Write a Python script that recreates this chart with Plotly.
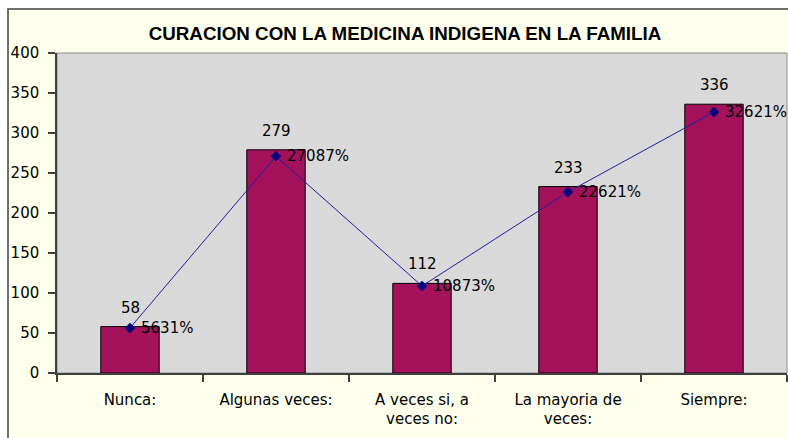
import plotly.graph_objects as go

# Datos
categorias = ["Nunca:", "Algunas veces:", "A veces si, a<br>veces no:", "La mayoria de<br>veces:", "Siempre:"]
frecuencias = [58, 279, 112, 233, 336]
porcentaje_linea = [56.31, 270.87, 108.73, 226.21, 326.21]
porcentaje_texto = ["5631%", "27087%", "10873%", "22621%", "32621%"]
ticks_y = [0, 50, 100, 150, 200, 250, 300, 350, 400]

W, H = 788, 438
ML, MR, MT, MB = 57, 1, 53, 65
pw = W - ML - MR
ph = H - MT - MB


def px_x(p):
    return (p - ML) / pw


def px_y(p):
    return (H - MB - p) / ph


fig = go.Figure()

fig.add_trace(go.Bar(
    x=categorias, y=frecuencias, width=0.4,
    marker=dict(color="#A3125A", line=dict(color="#000000", width=1)),
    hoverinfo="x+y", showlegend=False,
))

fig.add_trace(go.Scatter(
    x=categorias, y=porcentaje_linea, mode="lines+markers",
    line=dict(color="#1F1F9E", width=1),
    marker=dict(symbol="diamond", size=8, color="#00007F"),
    showlegend=False,
))

font_txt = dict(family="DejaVu Sans, Verdana, sans-serif", size=15, color="#000000")

for c, v in zip(categorias, frecuencias):
    fig.add_annotation(x=c, y=v, text=str(v), showarrow=False,
                       xanchor="center", yanchor="bottom", yshift=8, font=font_txt)

for c, v, t in zip(categorias, porcentaje_linea, porcentaje_texto):
    fig.add_annotation(x=c, y=v, text=t, showarrow=False,
                       xanchor="left", yanchor="middle", xshift=9, font=font_txt)

# marco crema del grafico y area de trazado gris
fig.add_shape(type="rect", xref="paper", yref="paper", layer="below",
              x0=px_x(8), x1=px_x(W + 20), y0=px_y(H + 20), y1=px_y(9),
              fillcolor="#FFFFEE", line=dict(color="#404040", width=1.5))
fig.add_shape(type="rect", xref="paper", yref="paper", layer="below",
              x0=0, x1=1, y0=0, y1=1,
              fillcolor="#D9D9D9", line=dict(color="#8C8C8C", width=1))

fig.update_layout(
    width=W, height=H,
    margin=dict(l=ML, r=MR, t=MT, b=MB, autoexpand=False),
    paper_bgcolor="#FFFFFF",
    plot_bgcolor="#D9D9D9",
    title=dict(text="<b>CURACION CON LA MEDICINA INDIGENA EN LA FAMILIA</b>",
               xref="container", x=405 / W, xanchor="center",
               yref="container", y=1 - 33 / H, yanchor="middle",
               font=dict(family="Liberation Sans, Arial, sans-serif", size=18.8, color="#000000")),
    bargap=0.6,
)

fig.update_xaxes(
    range=[-0.5, 4.5], autorange=False,
    showline=True, linecolor="#404040", linewidth=1.5,
    ticks="outside", ticklen=7, tickcolor="#404040", tickwidth=1.5,
    tickson="boundaries", showgrid=False,
    tickfont=font_txt, ticklabelstandoff=12,
)
fig.update_yaxes(
    range=[0, 400], tickvals=ticks_y, showline=True, linecolor="#404040", linewidth=1.5,
    ticks="outside", ticklen=7, tickcolor="#404040", tickwidth=1.5,
    showgrid=False, zeroline=False, tickfont=font_txt, ticklabelstandoff=6,
)

# sin margen en la pagina para que la figura llene la ventana
fig.write_html("out.html", config={"displayModeBar": False},
               post_script="document.body.style.margin='0';"
                           "document.documentElement.style.overflow='hidden';")
